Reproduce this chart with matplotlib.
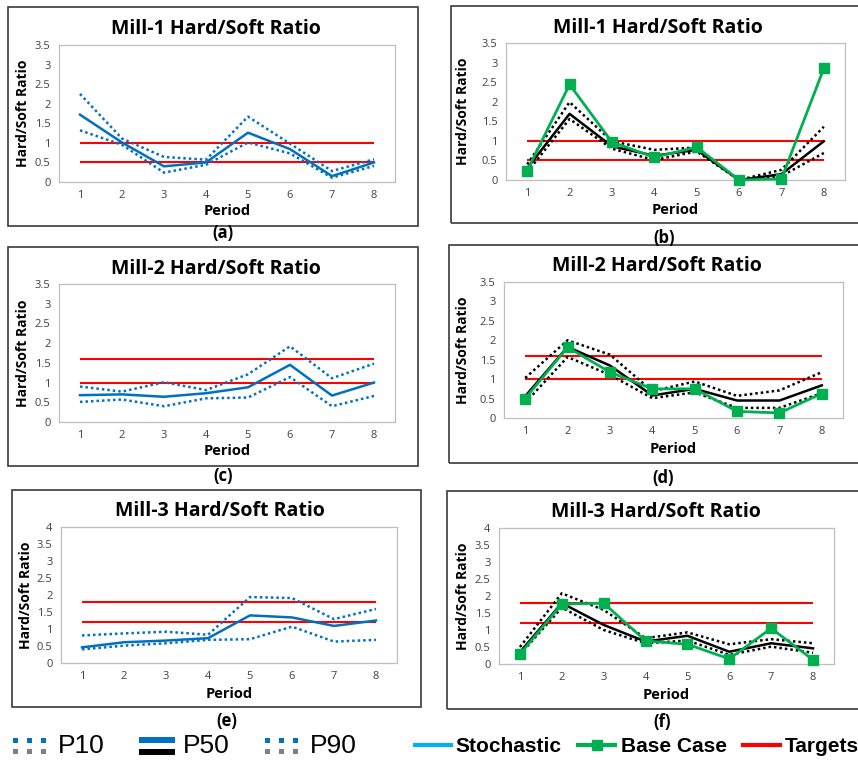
import matplotlib
matplotlib.use('Agg')
import matplotlib.pyplot as plt
from matplotlib.patches import Rectangle
from matplotlib.lines import Line2D
from matplotlib.ticker import FuncFormatter, MultipleLocator

W, H = 858, 761

periods = [1, 2, 3, 4, 5, 6, 7, 8]

# Mill-1
a_p10 = [1.32, 0.95, 0.24, 0.44, 1.01, 0.73, 0.11, 0.41]
a_p50 = [1.72, 1.01, 0.40, 0.50, 1.26, 0.84, 0.15, 0.50]
a_p90 = [2.25, 1.11, 0.64, 0.57, 1.67, 0.98, 0.28, 0.58]
b_p10 = [0.20, 1.56, 0.80, 0.51, 0.73, 0.00, 0.10, 0.69]
b_p50 = [0.30, 1.69, 0.86, 0.62, 0.77, 0.00, 0.15, 0.99]
b_p90 = [0.40, 1.99, 0.99, 0.77, 0.83, 0.00, 0.26, 1.36]
b_base = [0.24, 2.44, 0.97, 0.58, 0.84, 0.00, 0.03, 2.85]
mill1_targets = [0.5, 1.0]

# Mill-2
c_p10 = [0.51, 0.57, 0.40, 0.60, 0.62, 1.14, 0.40, 0.66]
c_p50 = [0.68, 0.70, 0.64, 0.73, 0.88, 1.45, 0.67, 1.00]
c_p90 = [0.90, 0.77, 1.01, 0.81, 1.21, 1.92, 1.11, 1.48]
d_p10 = [0.39, 1.57, 1.11, 0.51, 0.66, 0.26, 0.26, 0.64]
d_p50 = [0.56, 1.83, 1.35, 0.58, 0.75, 0.45, 0.45, 0.84]
d_p90 = [1.03, 2.00, 1.63, 0.69, 0.94, 0.57, 0.71, 1.18]
d_base = [0.50, 1.82, 1.18, 0.75, 0.75, 0.17, 0.13, 0.63]
mill2_targets = [1.0, 1.6]

# Mill-3
e_p10 = [0.40, 0.51, 0.58, 0.68, 0.70, 1.07, 0.63, 0.68]
e_p50 = [0.46, 0.61, 0.66, 0.73, 1.40, 1.34, 1.09, 1.25]
e_p90 = [0.81, 0.87, 0.92, 0.83, 1.94, 1.91, 1.29, 1.59]
f_p10 = [0.28, 1.66, 1.00, 0.61, 0.69, 0.27, 0.51, 0.33]
f_p50 = [0.35, 1.79, 1.15, 0.66, 0.83, 0.36, 0.61, 0.46]
f_p90 = [0.50, 2.08, 1.59, 0.76, 0.93, 0.58, 0.73, 0.61]
f_base = [0.29, 1.76, 1.79, 0.68, 0.58, 0.15, 1.05, 0.12]
mill3_targets = [1.2, 1.8]

BLUE = '#0070C0'
GREEN = '#00B050'
RED = '#FF0000'
LIGHT_BLUE = '#00B0F0'
BOLD_FONT = ['Open Sans', 'DejaVu Sans']

title_text = {
    'a': 'Mill-1 Hard/Soft Ratio', 'b': 'Mill-1 Hard/Soft Ratio',
    'c': 'Mill-2 Hard/Soft Ratio', 'd': 'Mill-2 Hard/Soft Ratio',
    'e': 'Mill-3 Hard/Soft Ratio', 'f': 'Mill-3 Hard/Soft Ratio',
}


def box(x0, y0, x1, y1):
    return [x0 / W, 1 - y1 / H, (x1 - x0) / W, (y1 - y0) / H]


def fx(x):
    return x / W


def fy(y):
    return 1 - y / H


def draw_panel(fig, frame, plot, title_y, period_y, label, label_y, ylabel_x,
               p10, p50, p90, targets, ymax, color, base=None):
    fx0, fy0, fx1, fy1 = frame
    fig.add_artist(Rectangle((fx(fx0), fy(fy1)), (fx1 - fx0) / W, (fy1 - fy0) / H,
                             transform=fig.transFigure, fill=False,
                             edgecolor='#3a3a3a', linewidth=1.2))
    ax = fig.add_axes(box(*plot))
    for t in targets:
        ax.hlines(t, periods[0], periods[-1], color=RED, linewidth=1.5, zorder=2)
    ax.plot(periods, p10, color=color, linestyle=(0, (1, 1.2)), linewidth=1.8, zorder=3)
    ax.plot(periods, p90, color=color, linestyle=(0, (1, 1.2)), linewidth=1.8, zorder=3)
    ax.plot(periods, p50, color=color, linewidth=1.8, zorder=4)
    if base is not None:
        ax.plot(periods, base, color=GREEN, linewidth=2, marker='s',
                markersize=7, zorder=5, clip_on=False)
    ax.set_xlim(0.5, 8.5)
    ax.set_ylim(0, ymax)
    ax.set_xticks(periods)
    ax.yaxis.set_major_locator(MultipleLocator(0.5))
    ax.yaxis.set_major_formatter(FuncFormatter(lambda v, p: '%g' % v))
    ax.tick_params(length=0, labelsize=8, labelcolor='#404040', pad=6)
    ax.tick_params(axis='x', pad=6)
    for lab in ax.get_xticklabels() + ax.get_yticklabels():
        lab.set_family(['Open Sans', 'DejaVu Sans'])
    for s in ax.spines.values():
        s.set_color('#BFBFBF')
        s.set_linewidth(0.9)

    mid = (fx0 + min(fx1, 858)) / 2
    cx = (plot[0] + plot[2]) / 2
    fig.text(fx(mid + 3), fy(title_y), title_text[label],
             ha='center', va='center', fontsize=14, fontweight='bold', family=BOLD_FONT)
    fig.text(fx(cx), fy(period_y - 5), 'Period', ha='center', va='top',
             fontsize=10.5, fontweight='bold', family=BOLD_FONT)
    fig.text(fx(ylabel_x), fy((plot[1] + plot[3]) / 2), 'Hard/Soft Ratio', rotation=90,
             ha='center', va='center', fontsize=10, fontweight='bold', family=BOLD_FONT)
    fig.text(fx(mid + 10), fy(label_y), '(%s)' % label,
             ha='center', va='center', fontsize=12, fontweight='bold', family=BOLD_FONT)
    return ax


fig = plt.figure(figsize=(W / 100, H / 100), dpi=100)

draw_panel(fig, (8, 7, 418, 226), (59, 45, 395, 182), 29, 209, 'a', 233, 23,
           a_p10, a_p50, a_p90, mill1_targets, 3.5, BLUE)
draw_panel(fig, (451, 6, 864, 223), (506, 43, 845, 180), 28, 208, 'b', 238, 463,
           b_p10, b_p50, b_p90, mill1_targets, 3.5, 'black', b_base)
draw_panel(fig, (8, 247, 418, 466), (59, 284, 395, 422), 269, 449, 'c', 476, 23,
           c_p10, c_p50, c_p90, mill2_targets, 3.5, BLUE)
draw_panel(fig, (449, 245, 864, 463), (504, 282, 843, 418), 266, 447, 'd', 478, 463,
           d_p10, d_p50, d_p90, mill2_targets, 3.5, 'black', d_base)
draw_panel(fig, (12, 490, 421, 707), (61, 527, 397, 663), 511, 692, 'e', 721, 26,
           e_p10, e_p50, e_p90, mill3_targets, 4, BLUE)
draw_panel(fig, (447, 491, 864, 709), (499, 528, 834, 664), 512, 693, 'f', 722, 463,
           f_p10, f_p50, f_p90, mill3_targets, 4, 'black', f_base)

# legend strip along the bottom, drawn in pixel units
lg = fig.add_axes([0, 0, 1, 1 - 728 / H])
lg.set_xlim(0, W)
lg.set_ylim(H, 728)
lg.axis('off')
for x0 in (13, 265):
    for i in range(3):
        lg.add_patch(Rectangle((x0 + i * 14, 738), 5, 5, color=BLUE, lw=0))
        lg.add_patch(Rectangle((x0 + i * 14, 749), 5, 5, color='#808080', lw=0))
lg.add_patch(Rectangle((139, 737), 36, 6, color=BLUE, lw=0))
lg.add_patch(Rectangle((139, 749), 36, 6, color='black', lw=0))
for x, s in ((58, 'P10'), (183, 'P50'), (310, 'P90')):
    lg.text(x, 746, s, ha='left', va='center', fontsize=19, family='Liberation Sans')
lg.add_line(Line2D([415, 451], [745, 745], color=LIGHT_BLUE, linewidth=3))
lg.add_line(Line2D([578, 615], [745, 745], color=GREEN, linewidth=3))
lg.add_line(Line2D([596.5], [745], color=GREEN, marker='s', markersize=7, linestyle='none'))
lg.add_line(Line2D([743, 780], [745, 745], color=RED, linewidth=3))
for x, s in ((455, 'Stochastic'), (621, 'Base Case'), (785, 'Targets')):
    lg.text(x, 746, s, ha='left', va='center', fontsize=15, fontweight='bold',
            family='Liberation Sans')

fig.savefig('out.png', dpi=100)
